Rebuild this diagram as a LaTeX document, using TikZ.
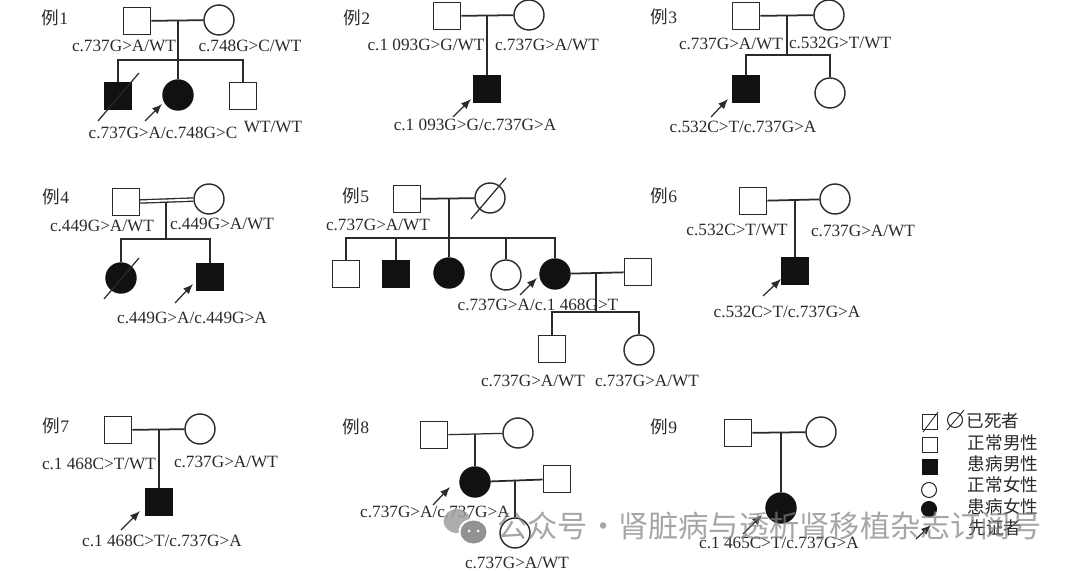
\documentclass[tikz,border=0pt]{standalone}
\usepackage{fontspec}
\setmainfont{Liberation Serif}
\newfontfamily\cjk{Noto Sans CJK SC}
\usepackage{xcolor}
\usepackage{tikz}
\usetikzlibrary{arrows.meta}
\definecolor{ink}{HTML}{2A2A2A}
\definecolor{solid}{HTML}{111111}
\tikzset{
  male/.style={draw=ink, line width=0.9pt, fill=white, rectangle, minimum size=0.54cm, inner sep=0pt},
  female/.style={draw=ink, line width=0.8pt, fill=white, circle, minimum size=0.6cm, inner sep=0pt},
  malefill/.style={male, fill=solid, draw=solid},
  femalefill/.style={female, fill=solid, draw=solid},
  geno/.style={text=ink, inner sep=0pt, font=\fontsize{9.8}{11}\selectfont},
  case/.style={text=ink, inner sep=0pt, font=\fontsize{10}{12}\selectfont},
  legendtext/.style={text=ink, inner sep=0pt, font=\fontsize{10}{12}\selectfont\cjk},
  legendmale/.style={male, minimum size=0.3cm, line width=0.6pt},
  legendfemale/.style={female, minimum size=0.3cm, line width=0.6pt},
  link/.style={draw=ink, line width=1pt},
  thinlink/.style={draw=ink, line width=0.7pt},
  slash/.style={draw=ink, line width=0.7pt},
  pointer/.style={-{Latex[length=2mm,width=1.6mm]}, draw=ink, line width=0.7pt}
}

\begin{document}
\begin{tikzpicture}[x=1cm,y=1cm]
  \useasboundingbox (0,0) rectangle (21.6,11.4);

  % case titles
  \foreach \n/\x/\y in {1/1.10/11.04,2/7.14/11.04,3/13.28/11.06,4/1.12/7.46,5/7.12/7.48,6/13.28/7.48,7/1.12/2.88,8/7.12/2.86,9/13.28/2.86}
    {\node[case] (case\n) at (\x,\y) {{\cjk 例}\n};}

  % case 1
  \node[male] (f1) at (2.74,10.98) {};
  \node[female] (m1) at (4.38,11.00) {};
  \node[malefill] (c1a) at (2.36,9.48) {};
  \node[femalefill] (c1b) at (3.56,9.50) {};
  \node[male] (c1c) at (4.86,9.48) {};
  \coordinate (b1) at (3.56,10.20);
  \draw[link] (f1) -- coordinate (j1) (m1);
  \draw[link] (c1b) -- (c1b |- j1);
  \draw[link] (c1a) |- (b1) -| (c1c);
  \coordinate (s1a) at (1.96,8.98); \coordinate (s1b) at (2.78,9.94);
  \draw[slash] (s1a) -- (s1b);
  \node[geno] (t1a) at (2.48,10.48) {c.737G>A/WT};
  \node[geno] (t1b) at (5.00,10.48) {c.748G>C/WT};
  \node[geno] (t1c) at (3.26,8.74) {c.737G>A/c.748G>C};
  \node[geno] (t1d) at (5.46,8.86) {WT/WT};

  % case 2
  \node[male] (f2) at (8.94,11.08) {};
  \node[female] (m2) at (10.58,11.10) {};
  \node[malefill] (c2) at (9.74,9.62) {};
  \draw[link] (f2) -- coordinate (j2) (m2);
  \draw[link] (c2) -- (c2 |- j2);
  \node[geno] (t2a) at (8.52,10.50) {c.1 093G>G/WT};
  \node[geno] (t2b) at (10.94,10.50) {c.737G>A/WT};
  \node[geno] (t2c) at (9.50,8.90) {c.1 093G>G/c.737G>A};

  % case 3
  \node[male] (f3) at (14.92,11.08) {};
  \node[female] (m3) at (16.58,11.10) {};
  \node[malefill] (c3a) at (14.92,9.62) {};
  \node[female] (c3b) at (16.60,9.54) {};
  \coordinate (b3) at (15.74,10.30);
  \draw[link] (f3) -- coordinate (j3) (m3);
  \draw[link] (b3) -- (b3 |- j3);
  \draw[link] (c3a) |- (b3) -| (c3b);
  \node[geno] (t3a) at (14.62,10.52) {c.737G>A/WT};
  \node[geno] (t3b) at (16.80,10.54) {c.532G>T/WT};
  \node[geno] (t3c) at (14.86,8.86) {c.532C>T/c.737G>A};

  % case 4
  \node[male] (f4) at (2.52,7.36) {};
  \node[female] (m4) at (4.18,7.42) {};
  \node[femalefill] (c4a) at (2.42,5.84) {};
  \node[malefill] (c4b) at (4.20,5.86) {};
  \coordinate (j4) at (3.32,7.39);
  \coordinate (b4) at (3.32,6.62);
  \draw[thinlink] (j4) -- (b4);
  \draw[thinlink] (c4a) |- (b4) -| (c4b);
  \draw[draw=ink, line width=2.6pt] (f4) -- (m4);
  \draw[draw=white, line width=1.1pt] (f4) -- (m4);
  \coordinate (s4a) at (2.08,5.42); \coordinate (s4b) at (2.78,6.24);
  \draw[slash] (s4a) -- (s4b);
  \node[geno] (t4a) at (2.04,6.88) {c.449G>A/WT};
  \node[geno] (t4b) at (4.44,6.92) {c.449G>A/WT};
  \node[geno] (t4c) at (3.84,5.04) {c.449G>A/c.449G>A};

  % case 5
  \node[male] (f5) at (8.14,7.42) {};
  \node[female] (m5) at (9.80,7.44) {};
  \node[male] (c5a) at (6.92,5.92) {};
  \node[malefill] (c5b) at (7.92,5.92) {};
  \node[femalefill] (c5c) at (8.98,5.94) {};
  \node[female] (c5d) at (10.12,5.90) {};
  \node[femalefill] (c5e) at (11.10,5.92) {};
  \node[male] (p5) at (12.76,5.96) {};
  \node[male] (g5a) at (11.04,4.42) {};
  \node[female] (g5b) at (12.78,4.40) {};
  \coordinate (b5) at (8.98,6.64);
  \coordinate (b5x) at (11.92,5.16);
  \draw[link] (f5) -- coordinate (j5) (m5);
  \draw[link] (c5c) -- (c5c |- j5);
  \draw[thinlink] (c5a) |- (b5) -| (c5e);
  \draw[thinlink] (c5b) -- (c5b |- b5);
  \draw[thinlink] (c5d) -- (c5d |- b5);
  \draw[link] (c5e) -- coordinate (j5x) (p5);
  \draw[thinlink] (b5x) -- (b5x |- j5x);
  \draw[link] (g5a) |- (b5x) -| (g5b);
  \coordinate (s5a) at (9.42,7.02); \coordinate (s5b) at (10.12,7.84);
  \draw[slash] (s5a) -- (s5b);
  \node[geno] (t5a) at (7.56,6.90) {c.737G>A/WT};
  \node[geno] (t5b) at (10.76,5.30) {c.737G>A/c.1 468G>T};
  \node[geno] (t5c) at (10.66,3.78) {c.737G>A/WT};
  \node[geno] (t5d) at (12.94,3.78) {c.737G>A/WT};

  % case 6
  \node[male] (f6) at (15.06,7.38) {};
  \node[female] (m6) at (16.70,7.42) {};
  \node[malefill] (c6) at (15.90,5.98) {};
  \draw[link] (f6) -- coordinate (j6) (m6);
  \draw[link] (c6) -- (c6 |- j6);
  \node[geno] (t6a) at (14.74,6.80) {c.532C>T/WT};
  \node[geno] (t6b) at (17.26,6.78) {c.737G>A/WT};
  \node[geno] (t6c) at (15.74,5.16) {c.532C>T/c.737G>A};

  % case 7
  \node[male] (f7) at (2.36,2.80) {};
  \node[female] (m7) at (4.00,2.82) {};
  \node[malefill] (c7) at (3.18,1.36) {};
  \draw[link] (f7) -- coordinate (j7) (m7);
  \draw[link] (c7) -- (c7 |- j7);
  \node[geno] (t7a) at (1.98,2.12) {c.1 468C>T/WT};
  \node[geno] (t7b) at (4.52,2.16) {c.737G>A/WT};
  \node[geno] (t7c) at (3.24,0.58) {c.1 468C>T/c.737G>A};

  % case 8
  \node[male] (f8) at (8.68,2.70) {};
  \node[female] (m8) at (10.36,2.74) {};
  \node[femalefill] (c8) at (9.50,1.76) {};
  \node[male] (p8) at (11.14,1.82) {};
  \node[female] (g8) at (10.30,0.74) {};
  \draw[thinlink] (f8) -- coordinate (j8) (m8);
  \draw[thinlink] (c8) -- (c8 |- j8);
  \draw[link] (c8) -- coordinate (j8x) (p8);
  \draw[thinlink] (g8) -- (g8 |- j8x);
  \node[geno] (t8a) at (8.70,1.16) {c.737G>A/c.737G>A};
  \node[geno] (t8b) at (10.34,0.14) {c.737G>A/WT};

  % case 9
  \node[male] (f9) at (14.76,2.74) {};
  \node[female] (m9) at (16.42,2.76) {};
  \node[femalefill] (c9) at (15.62,1.24) {};
  \draw[link] (f9) -- coordinate (j9) (m9);
  \draw[thinlink] (c9) -- (c9 |- j9);
  \node[geno] (t9a) at (15.58,0.54) {c.1 465C>T/c.737G>A};

  % proband arrows
  \foreach \n/\xa/\ya/\xb/\yb in {1/2.90/8.98/3.24/9.32,2/9.06/9.06/9.42/9.42,3/14.22/9.06/14.56/9.42,4/3.50/5.34/3.86/5.72,5/10.40/5.50/10.74/5.84,6/15.26/5.48/15.62/5.82,7/2.42/0.80/2.80/1.18,8/8.66/1.30/9.00/1.66,9/14.86/0.72/15.24/1.10,l/18.32/0.62/18.62/0.90}
    {\coordinate (arr\n a) at (\xa,\ya);
     \coordinate (arr\n b) at (\xb,\yb);
     \draw[pointer] (arr\n a) -- (arr\n b);}

  % legend
  \node[legendmale] (ls1) at (18.60,2.96) {};
  \node[legendfemale] (lc1) at (19.10,3.00) {};
  \node[legendmale] (ls2) at (18.60,2.50) {};
  \node[legendmale, fill=solid, draw=solid] (ls3) at (18.60,2.06) {};
  \node[legendfemale] (lc2) at (18.58,1.60) {};
  \node[legendfemale, fill=solid, draw=solid] (lc3) at (18.58,1.22) {};
  \coordinate (sla) at (18.46,2.76); \coordinate (slb) at (18.76,3.16);
  \coordinate (slc) at (18.94,2.80); \coordinate (sld) at (19.28,3.20);
  \draw[slash, line width=0.5pt] (sla) -- (slb);
  \draw[slash, line width=0.5pt] (slc) -- (sld);
  \node[legendtext] (lt1) at (19.86,2.98) {已死者};
  \node[legendtext] (lt2) at (20.06,2.54) {正常男性};
  \node[legendtext] (lt3) at (20.06,2.12) {患病男性};
  \node[legendtext] (lt4) at (20.06,1.70) {正常女性};
  \node[legendtext] (lt5) at (20.06,1.26) {患病女性};
  \node[legendtext] (lt6) at (19.90,0.84) {先证者};

  % watermark
  \fill[gray!75, opacity=0.85] (9.14,0.98) ellipse (0.27 and 0.24);
  \fill[white] (9.47,0.76) ellipse (0.30 and 0.27);
  \fill[gray, opacity=0.85] (9.47,0.76) ellipse (0.26 and 0.23);
  \fill[white] (9.38,0.78) circle (0.03) (9.56,0.78) circle (0.03);
  \node[anchor=west, inner sep=0pt, text=gray, text opacity=0.7, font=\fontsize{17.2}{19}\selectfont\cjk] (mark) at (9.94,0.88) {公众号·肾脏病与透析肾移植杂志订阅号};
\end{tikzpicture}
\end{document}
